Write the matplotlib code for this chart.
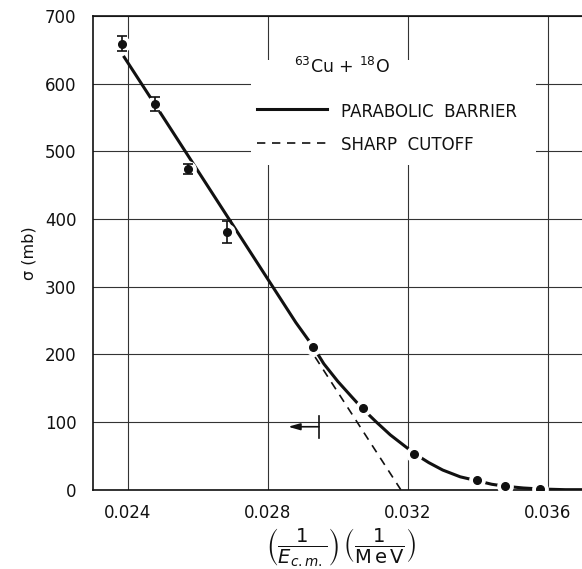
import matplotlib
matplotlib.use("Agg")
import matplotlib.pyplot as plt
from matplotlib.patches import Rectangle

# measured cross sections, 63Cu + 18O
inv_e = [0.02383, 0.02476, 0.02572, 0.02684, 0.02928, 0.03071, 0.03219, 0.03397, 0.03478, 0.03577]
sigma = [659, 570, 474, 381, 211, 120, 53, 14, 5.5, 1]
sigma_err = [11, 11, 8, 16, 0, 0, 0, 0, 0, 0]

# parabolic barrier fit (solid curve)
fit_x = [0.02387, 0.0250, 0.0260, 0.0270, 0.0280, 0.0288, 0.0293, 0.0296, 0.0300, 0.0304,
         0.0307, 0.0311, 0.0315, 0.0319, 0.0322, 0.0326, 0.0330, 0.0335, 0.0340, 0.0344,
         0.0348, 0.0353, 0.0358, 0.0365, 0.0380]
fit_y = [641, 551, 471, 391, 311, 247, 211, 186, 160, 137,
         120, 100, 81, 65, 53, 40, 29, 19, 13, 8,
         5, 2.5, 1, 0, 0]

# sharp cutoff model (dashed line)
cutoff_x = [0.02935, 0.0318]
cutoff_y = [196, 0]

# arrow marker near 100 mb
arrow_tail_x, arrow_head_x, arrow_y = 0.02946, 0.02858, 93

x_ticks = [0.024, 0.028, 0.032, 0.036]
x_tick_labels = ["0.024", "0.028", "0.032", "0.036"]
y_ticks = [0, 100, 200, 300, 400, 500, 600, 700]

INK = "#111111"

fig = plt.figure(figsize=(5.82, 5.69), dpi=100)
ax = fig.add_axes([0.1598, 0.1394, 0.9014, 0.8325])
ax.set_xlim(0.023, 0.038)
ax.set_ylim(0, 700)

ax.set_xticks(x_ticks)
ax.set_xticklabels(x_tick_labels)
ax.set_yticks(y_ticks)
ax.tick_params(length=0, labelsize=12, colors=INK)
ax.tick_params(axis="y", pad=12)
ax.tick_params(axis="x", pad=10)
ax.grid(True, color="#333333", lw=0.8)
ax.set_axisbelow(True)
for side in ax.spines.values():
    side.set_linewidth(1.2)
    side.set_color(INK)

ax.plot(fit_x, fit_y, color=INK, lw=2.2, zorder=3, solid_capstyle="butt")
ax.plot(cutoff_x, cutoff_y, color=INK, lw=1.2, ls=(0, (5, 4)), zorder=3)

# white halos break the curves around each point, like the original drawing
ax.plot(inv_e, sigma, ls="none", marker="o", ms=11, mfc="white", mec="white", zorder=4)
ax.errorbar(inv_e[:4], sigma[:4], yerr=sigma_err[:4], fmt="none", ecolor=INK,
            elinewidth=1.2, capsize=3.5, capthick=1.2, zorder=5)
ax.plot(inv_e, sigma, ls="none", marker="o", ms=5.5, color=INK, zorder=6)

# arrow with a bar at its tail
ax.annotate("", xy=(arrow_head_x, arrow_y), xytext=(arrow_tail_x, arrow_y),
            arrowprops=dict(arrowstyle="-|>,head_length=0.7,head_width=0.2",
                            color=INK, lw=1.2, shrinkA=0, shrinkB=0), zorder=5)
ax.plot([arrow_tail_x, arrow_tail_x], [76, 109], color=INK, lw=1.2, zorder=5)

# legend block (blank area over the grid)
ax.add_patch(Rectangle((0.02752, 480), 0.00815, 155, facecolor="white",
                       edgecolor="none", zorder=2))
ax.text(0.02875, 624, r"$^{63}$Cu + $^{18}$O", fontsize=12.5, color=INK, va="center", zorder=6)
ax.plot([0.0277, 0.0297], [563, 563], color=INK, lw=2.2, zorder=6)
ax.text(0.0301, 558, "PARABOLIC  BARRIER", fontsize=12, color=INK, va="center", zorder=6)
ax.plot([0.0277, 0.0297], [513, 513], color=INK, lw=1.2, ls=(0, (5, 4)), zorder=6)
ax.text(0.0301, 509, "SHARP  CUTOFF", fontsize=12, color=INK, va="center", zorder=6)

ax.set_ylabel("σ (mb)", fontsize=11.5, color=INK, labelpad=6)
ax.set_xlabel(r"$\left(\dfrac{1}{E_{c.m.}}\right)\,\left(\dfrac{1}{\mathrm{M\,e\,V}}\right)$",
              fontsize=14, color=INK)
ax.xaxis.set_label_coords(0.473, -0.078)
ax.xaxis.label.set_va("top")

fig.savefig("out.png", dpi=100)
